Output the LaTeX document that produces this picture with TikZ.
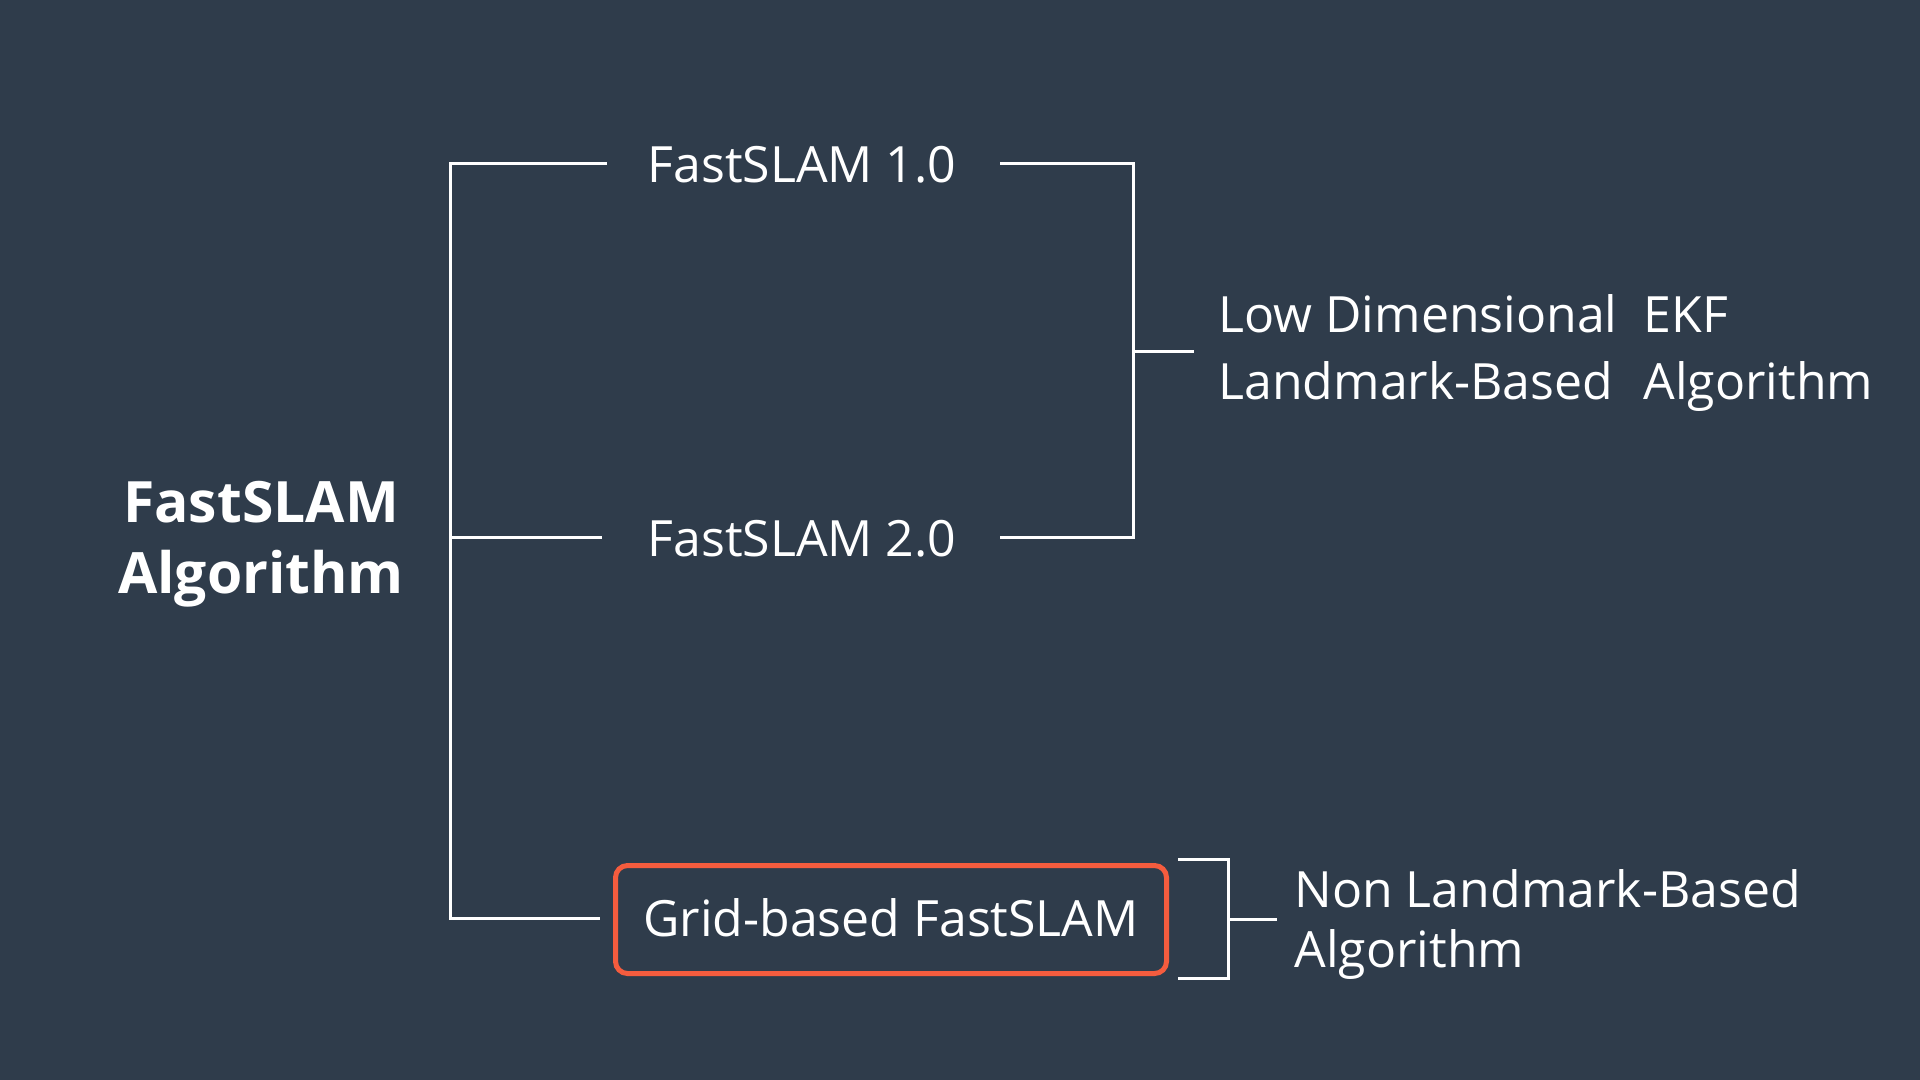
\documentclass[tikz,border=0pt]{standalone}
\usepackage{fontspec}
\setmainfont{Open Sans}
\definecolor{bgc}{RGB}{47,60,75}
\definecolor{orng}{RGB}{245,92,62}
\begin{document}
\begin{tikzpicture}[x=0.5pt,y=-0.5pt,
  lbl/.style={text=white,inner sep=0pt,font=\fontsize{25}{30}\selectfont},
  ttl/.style={text=white,inner sep=0pt,font=\fontsize{28.5}{34}\selectfont\bfseries},
  wline/.style={draw=white,line width=1.5pt},
  gridbox/.style={draw=orng,line width=2.5pt,rounded corners=6pt,minimum width=275.5pt,minimum height=54pt,inner sep=0pt}]
\fill[bgc] (0,0) rectangle (1920,1080);
\useasboundingbox (0,0) rectangle (1920,1080);
% title
\node[ttl,anchor=base] (title) at (261,522) {\begin{tabular}[t]{@{}c@{}}FastSLAM\\[1.5pt]Algorithm\end{tabular}};
% branch labels
\node[lbl,anchor=base] (f1) at (802,183) {FastSLAM 1.0};
\node[lbl,anchor=base] (f2) at (802,556) {FastSLAM 2.0};
\node[gridbox] (grid) at (891,919.5) {};
\node[lbl,anchor=base] (gtext) at (891,936) {Grid-based FastSLAM};
% right labels
\node[lbl,anchor=base west] (low) at (1218,333) {\renewcommand{\arraystretch}{1.1}\begin{tabular}[t]{@{}l@{\hspace{13pt}}l@{}}Low Dimensional & EKF\\ Landmark-Based & Algorithm\end{tabular}};
\node[lbl,anchor=base west] (non) at (1294,907) {\renewcommand{\arraystretch}{1.0}\begin{tabular}[t]{@{}l@{}}Non Landmark-Based\\ Algorithm\end{tabular}};
% coordinates
\coordinate (sp1) at (450,164);
\coordinate (sp2) at (450,537);
\coordinate (sp3) at (450,918);
\coordinate (e1) at (607,164);
\coordinate (e2) at (602,537);
\coordinate (e3) at (600,918);
\coordinate (r1s) at (1000,164);
\coordinate (r2s) at (1000,537);
\coordinate (rb1) at (1133,164);
\coordinate (rb2) at (1133,537);
\coordinate (rbm) at (1133,352);
\coordinate (rme) at (1194,352);
\coordinate (gb1) at (1178,859);
\coordinate (gb2) at (1228,859);
\coordinate (gb3) at (1228,978);
\coordinate (gb4) at (1178,978);
\coordinate (gbm) at (1228,919);
\coordinate (gme) at (1277,919);
% connectors
\draw[wline] (e1) -- (sp1) -- (sp3) -- (e3);
\draw[wline] (sp2) -- (e2);
\draw[wline] (r1s) -- (rb1) -- (rb2) -- (r2s);
\draw[wline] (rbm) -- (rme);
\draw[wline] (gb1) -- (gb2) -- (gb3) -- (gb4);
\draw[wline] (gbm) -- (gme);
\end{tikzpicture}
\end{document}
